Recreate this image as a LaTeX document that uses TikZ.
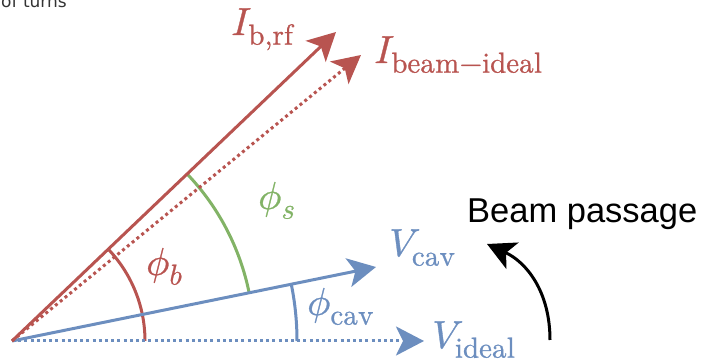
\documentclass[tikz,border=0pt]{standalone}
\usepackage{fontspec}
\usepackage[mathrm=sym]{unicode-math}
\setmathfont{Latin Modern Math}[FakeBold=0.8]
\newfontfamily\labelsans{Liberation Sans}
\newfontfamily\topsans{DejaVu Sans}
\usetikzlibrary{arrows.meta}
\definecolor{dred}{HTML}{B85450}
\definecolor{dblue}{HTML}{6C8EBF}
\definecolor{dgreen}{HTML}{82B366}
\DeclareMathSizes{39}{39}{29}{22}
\tikzset{
  vec/.style={line width=3pt, -{Stealth[length=28pt,width=29pt,inset=7pt]}},
  dotline/.style={dash pattern=on 3pt off 3.2pt},
  anglearc/.style={line width=3pt},
  mathlbl/.style={inner sep=0pt, anchor=base west, font=\fontsize{39}{46}\selectfont},
}
\begin{document}
\begin{tikzpicture}[x=1pt,y=1pt]
\useasboundingbox (0,0) rectangle (702,361);
\coordinate (O) at (12,20);
\coordinate (Vi) at (424,20);
\coordinate (Vc) at (376,94);
\coordinate (Ib) at (336,329);
\coordinate (Ie) at (361,306);
\coordinate (bs) at (550,21);
\coordinate (bt) at (487,117);
% angle arcs
\draw[anglearc, dred] ([shift={(0:133)}]O) arc[start angle=0, end angle=43.6, radius=133];
\draw[anglearc, dgreen] ([shift={(11.55:242)}]O) arc[start angle=11.55, end angle=43.6, radius=242];
\draw[anglearc, dblue] ([shift={(0:285)}]O) arc[start angle=0, end angle=11.55, radius=285];
% vectors
\draw[vec, dblue, dotline] (O) -- (Vi);
\draw[vec, dblue] (O) -- (Vc);
\draw[vec, dred, dotline] (O) -- (Ie);
\draw[vec, dred] (O) -- (Ib);
\draw[vec, black] (bs) .. controls (550,70) and (526,99) .. (bt);
% labels
\node[mathlbl, text=dred] (lIb) at (231,326) {$I_{\mathrm{b,rf}}$};
\node[mathlbl, text=dred] (lIe) at (374,298) {$I_{\mathrm{beam-ideal}}$};
\node[mathlbl, text=dblue] (lVc) at (389,105) {$V_{\mathrm{cav}}$};
\node[mathlbl, text=dblue] (lVi) at (432,13) {$V_{\mathrm{ideal}}$};
\node[mathlbl, text=dred] (lpb) at (146,86) {$\phi_b$};
\node[mathlbl, text=dgreen] (lps) at (258,152) {$\phi_s$};
\node[mathlbl, text=dblue] (lpc) at (307,46) {$\phi_{\mathrm{cav}}$};
\node[inner sep=0pt, anchor=base west, font=\labelsans\fontsize{34.5}{40}\selectfont] (bp) at (467,138) {Beam passage};
\node[inner sep=0pt, anchor=base east, font=\topsans\fontsize{17}{20}\selectfont, text=black!80] (ot) at (67,353) {of turns};
\end{tikzpicture}
\end{document}
